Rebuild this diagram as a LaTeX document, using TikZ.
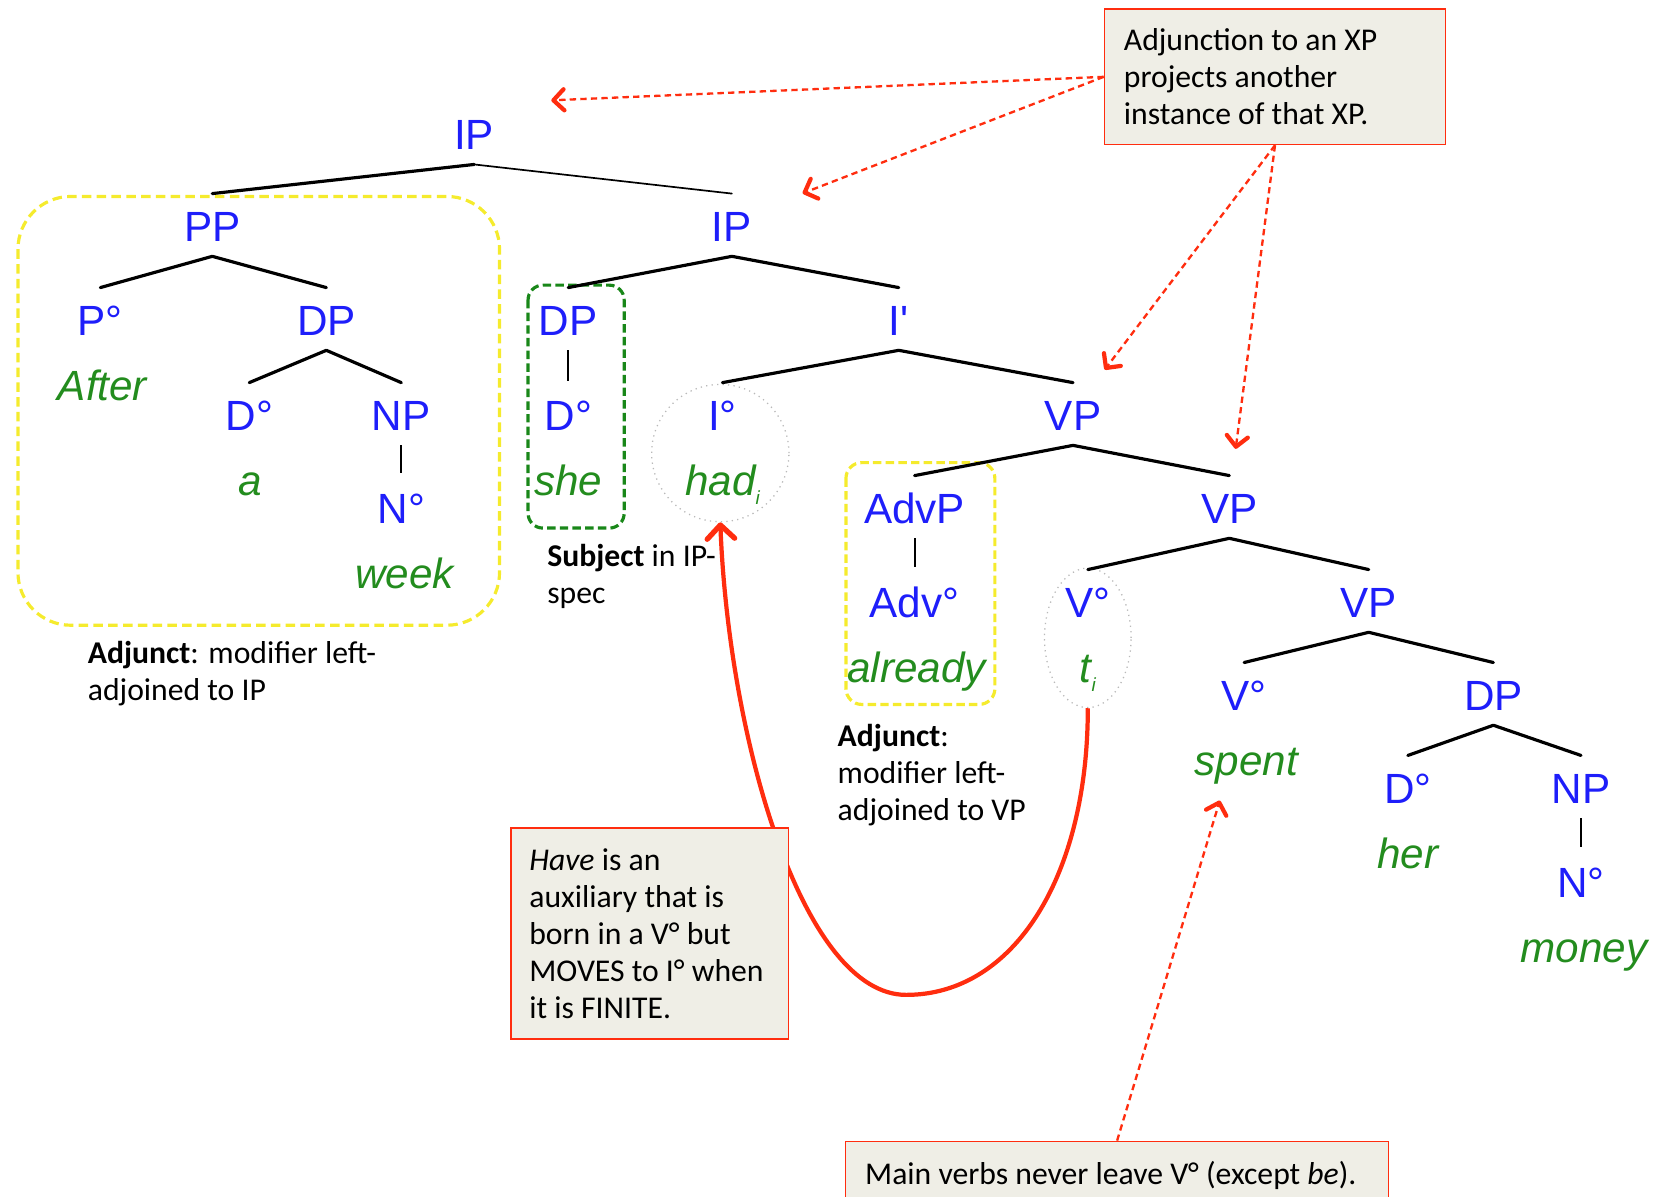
\documentclass[tikz,border=0pt]{standalone}
\usepackage{fontspec}
\setmainfont{Carlito}
\newfontfamily\treefont{Liberation Sans}
\usetikzlibrary{arrows.meta,shapes.geometric}
\definecolor{tblue}{RGB}{30,30,250}
\definecolor{tgreen}{RGB}{35,140,30}
\definecolor{ared}{RGB}{255,45,15}
\definecolor{boxfill}{RGB}{239,238,230}
\definecolor{adjyellow}{RGB}{245,235,45}
\definecolor{subjgreen}{RGB}{25,135,25}
\begin{document}
\begin{tikzpicture}[x=1pt,y=-1pt,
  cat/.style={font=\treefont\fontsize{40}{40}\selectfont, text=tblue, inner sep=0pt, text height=29pt, text depth=0pt},
  word/.style={font=\treefont\itshape\fontsize{40}{40}\selectfont, text=tgreen, inner sep=0pt, anchor=base},
  br/.style={line width=3pt, line cap=round},
  vl/.style={line width=2pt},
  note/.style={font=\fontsize{30}{35}\selectfont, align=left, inner sep=0pt},
  notebox/.style={draw=ared, fill=boxfill, line width=1.5pt, inner sep=0pt, anchor=north west},
  dasharr/.style={draw=ared, line width=2.2pt, dash pattern=on 6pt off 4pt, -{Straight Barb[length=10pt,width=20pt,line width=4pt,round]}},
  dotring/.style={draw=gray!55, line width=1.2pt, dash pattern=on 1.2pt off 4pt, inner sep=0pt},
]
\useasboundingbox (0,0) rectangle (1568,1133);

% highlight shapes
\draw[adjyellow, line width=3pt, dash pattern=on 9pt off 5pt, rounded corners=50pt] (17,186) rectangle (473,592);
\draw[subjgreen, line width=3pt, dash pattern=on 8pt off 4pt, rounded corners=14pt] (500,270) rectangle (591,500);
\draw[adjyellow, line width=3pt, dash pattern=on 8pt off 4pt, rounded corners=15pt] (801,438) rectangle (942,667);
\node[dotring, circle, minimum size=130pt] (circ) at (682,429) {};
\node[dotring, ellipse, minimum width=82pt, minimum height=132pt] (ell) at (1030,604) {};

% categories
\node[cat] (ip0) at (449,127) {IP};
\node[cat] (pp) at (201,214) {PP};
\node[cat] (ip1) at (693,214) {IP};
\node[cat] (p0) at (95,303) {P°};
\node[cat] (dp1) at (309,303) {DP};
\node[cat] (d1) at (236,393) {D°};
\node[cat] (np1) at (380,393) {NP};
\node[cat] (n1) at (380,481) {N°};
\node[cat] (dp2) at (538,303) {DP};
\node[cat] (ib) at (851,303) {I'};
\node[cat] (d2) at (538,393) {D°};
\node[cat] (i0) at (684,393) {I°};
\node[cat] (vp1) at (1016,393) {VP};
\node[cat] (advp) at (866,481) {AdvP};
\node[cat] (vp2) at (1164,481) {VP};
\node[cat] (adv) at (866,570) {Adv°};
\node[cat] (v1) at (1030,570) {V°};
\node[cat] (vp3) at (1296,570) {VP};
\node[cat] (v2) at (1178,658) {V°};
\node[cat] (dp3) at (1414,658) {DP};
\node[cat] (d3) at (1333,746) {D°};
\node[cat] (np3) at (1497,746) {NP};
\node[cat] (n3) at (1497,835) {N°};

% words
\node[word] (w1) at (97,379) {After};
\node[word] (w2) at (237,469) {a};
\node[word] (w3) at (383,557) {week};
\node[word] (w4) at (538,469) {she};
\node[word] (w5) at (684,469) {had\raisebox{-0.22em}{\fontsize{18}{18}\selectfont i}};
\node[word] (w6) at (868,646) {already};
\node[word] (w7) at (1030,646) {t\raisebox{-0.22em}{\fontsize{18}{18}\selectfont i}};
\node[word] (w8) at (1180,734) {spent};
\node[word] (w9) at (1333,822) {her};
\node[word] (w10) at (1500,911) {money};

% branches
\draw[br] ([yshift=-14pt]ip0.south) -- ([yshift=16pt]pp.north);
\draw[br, line width=1.6pt] ([yshift=-14pt]ip0.south) -- ([yshift=16pt]ip1.north);
\draw[br] ([yshift=-14pt]pp.south) -- ([yshift=16pt]p0.north);
\draw[br] ([yshift=-14pt]pp.south) -- ([yshift=16pt]dp1.north);
\draw[br] ([yshift=-14pt]dp1.south) -- ([yshift=16pt]d1.north);
\draw[br] ([yshift=-14pt]dp1.south) -- ([yshift=16pt]np1.north);
\draw[vl] ([yshift=-14pt]np1.south) -- ([yshift=18pt]n1.north);
\draw[br] ([yshift=-14pt]ip1.south) -- ([yshift=16pt]dp2.north);
\draw[br] ([yshift=-14pt]ip1.south) -- ([yshift=16pt]ib.north);
\draw[vl] ([yshift=-14pt]dp2.south) -- ([yshift=18pt]d2.north);
\draw[br] ([yshift=-14pt]ib.south) -- ([yshift=16pt]i0.north);
\draw[br] ([yshift=-14pt]ib.south) -- ([yshift=16pt]vp1.north);
\draw[br] ([yshift=-14pt]vp1.south) -- ([yshift=16pt]advp.north);
\draw[br] ([yshift=-14pt]vp1.south) -- ([yshift=16pt]vp2.north);
\draw[vl] ([yshift=-14pt]advp.south) -- ([yshift=18pt]adv.north);
\draw[br] ([yshift=-14pt]vp2.south) -- ([yshift=16pt]v1.north);
\draw[br] ([yshift=-14pt]vp2.south) -- ([yshift=16pt]vp3.north);
\draw[br] ([yshift=-14pt]vp3.south) -- ([yshift=16pt]v2.north);
\draw[br] ([yshift=-14pt]vp3.south) -- ([yshift=16pt]dp3.north);
\draw[br] ([yshift=-14pt]dp3.south) -- ([yshift=16pt]d3.north);
\draw[br] ([yshift=-14pt]dp3.south) -- ([yshift=16pt]np3.north);
\draw[vl] ([yshift=-14pt]np3.south) -- ([yshift=18pt]n3.north);

% free notes
\node[note, anchor=west] (n1txt) at (83,638) {\textbf{Adjunct}: modifier left-\\adjoined to IP};
\node[note, anchor=west] (n2txt) at (518,546) {\textbf{Subject} in IP-\\spec};
\node[note, anchor=west] (n3txt) at (793,734) {\textbf{Adjunct}:\\modifier left-\\adjoined to VP};

% movement curve
\draw[ared, line width=4pt, -{Straight Barb[length=13pt,width=26pt,line width=5pt,round]}] (ell.south) .. controls (1030,830) and (960,942) .. (858,942) .. controls (760,942) and (690,700) .. (circ.south);

% boxes
\node[notebox, minimum width=323pt, minimum height=128pt] (b1) at (1045,8) {};
\node[note, anchor=west] (b1txt) at ([xshift=19pt]b1.west) {Adjunction to an XP\\projects another\\instance of that XP.};
\node[notebox, minimum width=263pt, minimum height=200pt] (b2) at (483,783) {};
\node[note, anchor=west] (b2txt) at ([xshift=18pt]b2.west) {\textit{Have} is an\\auxiliary that is\\born in a V° but\\MOVES to I° when\\it is FINITE.};
\node[notebox, minimum width=514pt, minimum height=64pt] (b3) at (800,1080) {};
\node[note, anchor=west] (b3txt) at ([xshift=19pt]b3.west) {Main verbs never leave V° (except \textit{be}).};

% dashed arrows
\coordinate (t1) at (522,95);
\coordinate (t2) at (760,183);
\coordinate (t3) at (1046,350);
\coordinate (t4) at (1170,425);
\coordinate (t5) at (1155,758);
\draw[dasharr] (b1.west) -- (t1);
\draw[dasharr] (b1.west) -- (t2);
\draw[dasharr] (b1.south) -- (t3);
\draw[dasharr] (b1.south) -- (t4);
\draw[dasharr] (b3.north) -- (t5);
\end{tikzpicture}
\end{document}
